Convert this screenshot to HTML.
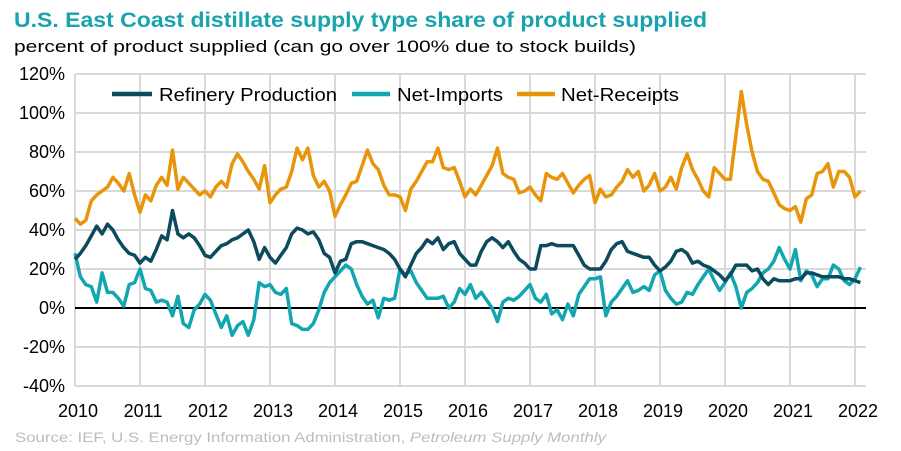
<!DOCTYPE html>
<html><head><meta charset="utf-8"><style>
body{margin:0;background:#fff;width:901px;height:451px;overflow:hidden;font-family:"Liberation Sans",Arial,sans-serif}
svg{display:block}
</style></head><body>
<svg id="chart" width="901" height="451">
<text x="14" y="27" font-size="21" font-weight="bold" fill="#18a3ae" textLength="693" lengthAdjust="spacingAndGlyphs">U.S. East Coast distillate supply type share of product supplied</text>
<text x="14" y="52" font-size="17" fill="#000" textLength="622" lengthAdjust="spacingAndGlyphs">percent of product supplied (can go over 100% due to stock builds)</text>
<g id="grid"></g>
<g id="yticks"></g>
<g id="xticks"></g>
<g id="series"></g>
<g>
<g><line x1="112" y1="94" x2="152" y2="94" stroke="#0c4a5e" stroke-width="4.5"/><text x="159" y="101" font-size="18" textLength="178" lengthAdjust="spacingAndGlyphs">Refinery Production</text></g>
<g><line x1="352" y1="94" x2="390" y2="94" stroke="#12a6b1" stroke-width="4.5"/><text x="397" y="101" font-size="18" textLength="106" lengthAdjust="spacingAndGlyphs">Net-Imports</text></g>
<g><line x1="517" y1="94" x2="555" y2="94" stroke="#e8950b" stroke-width="4.5"/><text x="561" y="101" font-size="18" textLength="118" lengthAdjust="spacingAndGlyphs">Net-Receipts</text></g>
</g>
<text x="15" y="442" font-size="14" fill="#bdbdbd" textLength="591" lengthAdjust="spacingAndGlyphs">Source: IEF, U.S. Energy Information Administration, <tspan font-style="italic">Petroleum Supply Monthly</tspan></text>
</svg>
<script>
const yTicks=[120,100,80,60,40,20,0,-20,-40];
const xYears=[2010,2011,2012,2013,2014,2015,2016,2017,2018,2019,2020,2021,2022];
const refinery=[25,28,32,37,42,38,43,40,35,31,28,27,
23,26,24,30,37,35,50,38,36,38,36,32,
27,26,29,32,33,35,36,38,40,34,25,31,
26,23,27,31,38,41,40,38,39,35,28,26,
18,24,25,33,34,34,33,32,31,30,28,25,
20,16,22,28,31,35,33,36,30,33,34,28,
25,22,22,29,34,36,34,31,34,29,25,23,
20,20,32,32,33,32,32,32,32,27,22,20,
20,20,24,30,33,34,29,28,27,26,26,22,
19,21,24,29,30,28,23,24,22,21,19,17,
14,17,22,22,22,19,20,15,12,15,14,14,
14,15,15,18,18,17,16,16,16,16,15,15,
14,13];
const netImports=[28,16,12,11,3,18,8,8,5,1,12,13,
20,10,9,3,4,3,-4,6,-8,-10,-1,2,
7,4,-3,-10,-4,-14,-9,-7,-14,-6,13,11,
12,8,7,10,-8,-9,-11,-11,-8,-1,8,13,
16,19,22,20,12,6,2,4,-5,5,4,5,
20,17,19,13,9,5,5,5,6,0,3,10,
7,12,5,8,4,0,-7,3,5,4,6,9,
12,5,3,7,-3,-1,-6,2,-4,7,11,15,
15,16,-4,3,6,10,14,8,9,11,9,17,
19,9,5,2,3,8,7,12,16,20,14,9,
13,18,11,0,8,10,13,18,20,24,31,25,
20,30,14,19,17,11,15,15,22,20,14,12,
15,21];
const netReceipts=[46,43,45,55,58,60,62,67,64,60,69,58,
49,58,55,63,67,63,81,61,67,64,61,58,
60,57,62,65,62,74,79,75,70,66,61,73,
54,58,61,62,70,82,76,82,68,62,65,60,
47,53,58,64,65,73,81,74,71,63,58,58,
57,50,61,65,70,75,75,82,72,71,72,65,
57,61,58,63,68,73,82,69,67,66,59,60,
62,58,55,69,67,66,69,64,59,63,66,68,
54,61,57,58,62,65,71,67,70,60,63,69,
60,62,67,61,72,79,71,66,60,57,72,69,
66,66,88,111,94,80,70,66,65,59,53,51,
50,52,44,56,58,69,70,74,62,70,70,67,
57,60];
const X0=75,YW=65,Y0=308,PER=1.95,XR=866;
const xs=i=>X0+i*YW/12;
const ys=v=>Y0-v*PER;
const NS='http://www.w3.org/2000/svg';
const g=document.getElementById('grid'),yt=document.getElementById('yticks'),xt=document.getElementById('xticks'),sg=document.getElementById('series');
function mk(t,a){const e=document.createElementNS(NS,t);for(const k in a)e.setAttribute(k,a[k]);return e;}
yTicks.forEach(v=>{
 const l=mk('line',{x1:X0,x2:XR,y1:ys(v),y2:ys(v),stroke:v===0?'#000':'#d9d9d9','stroke-width':2});
 
 
 g.appendChild(l);
 const t=mk('text',{x:65,y:ys(v)+6,'font-size':18,'text-anchor':'end'});t.textContent=v+'%';
 
 
 yt.appendChild(t);
});
xYears.forEach((yr,k)=>{
 const x=X0+k*YW;
 const l=mk('line',{x1:x,x2:x,y1:ys(120),y2:ys(-40),stroke:'#d9d9d9','stroke-width':2});
 
 
 g.insertBefore(l,g.firstChild);
 const t=mk('text',{x:x+3,y:417,'font-size':18,'text-anchor':'middle'});t.textContent=yr;
 
 
 xt.appendChild(t);
});
[[netReceipts,'#e8950b','net-receipts-line'],[netImports,'#12a6b1','net-imports-line'],[refinery,'#0c4a5e','refinery-production-line']].forEach(([d,c,n])=>{
 const p=mk('polyline',{points:d.map((v,i)=>xs(i).toFixed(1)+','+ys(v).toFixed(1)).join(' '),fill:'none',stroke:c,'stroke-width':3.5,'stroke-linejoin':'round'});
 
 
 sg.appendChild(p);
});
</script>
</body></html>
